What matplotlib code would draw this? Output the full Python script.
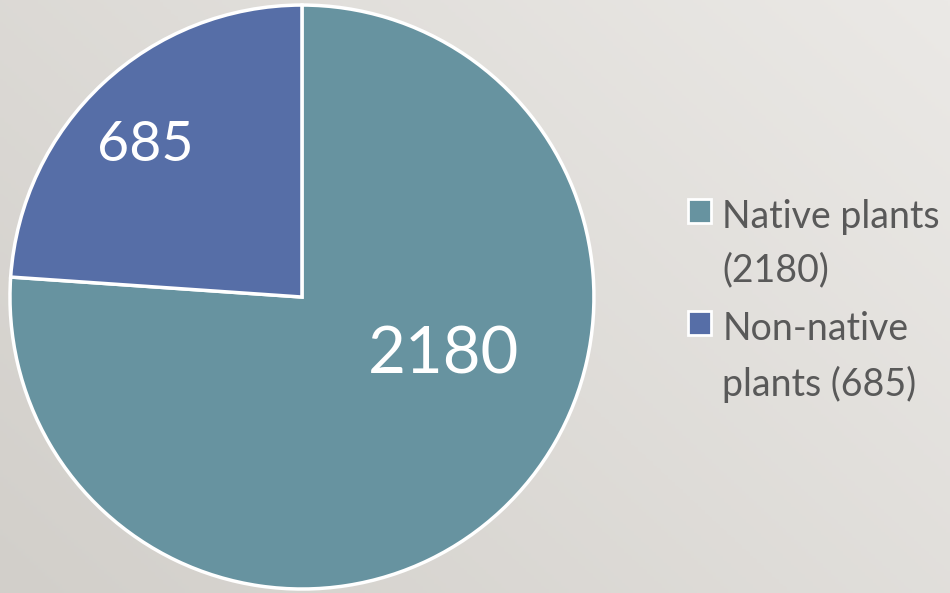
import numpy as np
import matplotlib.pyplot as plt
from matplotlib.colors import LinearSegmentedColormap

labels = ["Native plants\n(2180)", "Non-native\nplants (685)"]
values = [2180, 685]
colors = ["#6793a0", "#566ea7"]

plt.rcParams['font.family'] = ['Lato', 'DejaVu Sans']

fig = plt.figure(figsize=(9.5, 5.93), dpi=100)

# soft gray gradient background
grad = np.linspace(0, 1, 256)
xx, yy = np.meshgrid(grad, grad)
bg = 0.6 * xx + 0.4 * (1 - yy)
bgax = fig.add_axes([0, 0, 1, 1])
bgax.imshow(bg, cmap=LinearSegmentedColormap.from_list("bg", ["#d2cfca", "#ebe9e6"]),
            aspect="auto", extent=[0, 1, 0, 1])
bgax.axis("off")

ax = fig.add_axes([0.0105, 0.0067, 0.6147, 0.9848])
wedges, _ = ax.pie(values, colors=colors, startangle=90, counterclock=False,
                   wedgeprops=dict(edgecolor="white", linewidth=2.5))
ax.set_xlim(-1.0, 1.0)
ax.set_ylim(-1.0, 1.0)
ax.set_aspect("equal")

ax.text(0.485, -0.2, str(values[0]), color="white", fontsize=47,
        ha="center", va="center")
ax.text(-0.535, 0.52, str(values[1]), color="white", fontsize=40,
        ha="center", va="center")

leg = fig.legend(wedges, labels, loc="upper left", bbox_to_anchor=(0.724, 0.665),
                 frameon=False, fontsize=27, labelcolor="#595959",
                 handlelength=0.62, handleheight=0.62, handletextpad=0.3,
                 labelspacing=0.6, borderaxespad=0, borderpad=0)
for t in leg.get_texts():
    t.set_linespacing(1.62)
# squares next to the first line of each entry
for col in leg._legend_handle_box.get_children():
    for row in col.get_children():
        row.align = "top"
for h in leg.legend_handles:
    h.set_edgecolor("white")
    h.set_linewidth(2)

plt.savefig("out.png", dpi=100)
